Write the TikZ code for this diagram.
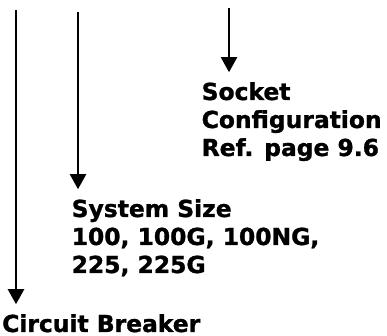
\documentclass[tikz,border=0pt]{standalone}
\usepackage{fontspec}
\setmainfont{DejaVu Sans}[BoldFeatures={FakeBold=1.2}]
\usetikzlibrary{arrows.meta,positioning}
\tikzset{
  partlabel/.style={anchor=base west, align=left, inner sep=0pt, outer ysep=10pt, font=\bfseries\fontsize{23.4}{28}\selectfont},
  partarrow/.style={-{Triangle[width=16pt,length=15pt]}, line width=2.2pt}
}
\begin{document}
\begin{tikzpicture}[x=1pt,y=1pt]
\useasboundingbox (0,0) rectangle (387,336);
\coordinate (top1) at (16,326);
\coordinate (top2) at (78,324);
\coordinate (top3) at (229,328);
% base anchor of a multi-line node sits on its last line
\node[partlabel] (breaker) at (2,4) {Circuit Breaker};
\node[partlabel] (size) at (71.5,63) {System Size\\100, 100G, 100NG,\\225, 225G};
\node[partlabel] (socket) at (201.5,180) {Socket\\Configuration\\Ref. page 9.6};
\draw[partarrow] (top1) -- (breaker.north -| top1);
\draw[partarrow] (top2) -- (size.north -| top2);
\draw[partarrow] (top3) -- (socket.north -| top3);
\end{tikzpicture}
\end{document}
